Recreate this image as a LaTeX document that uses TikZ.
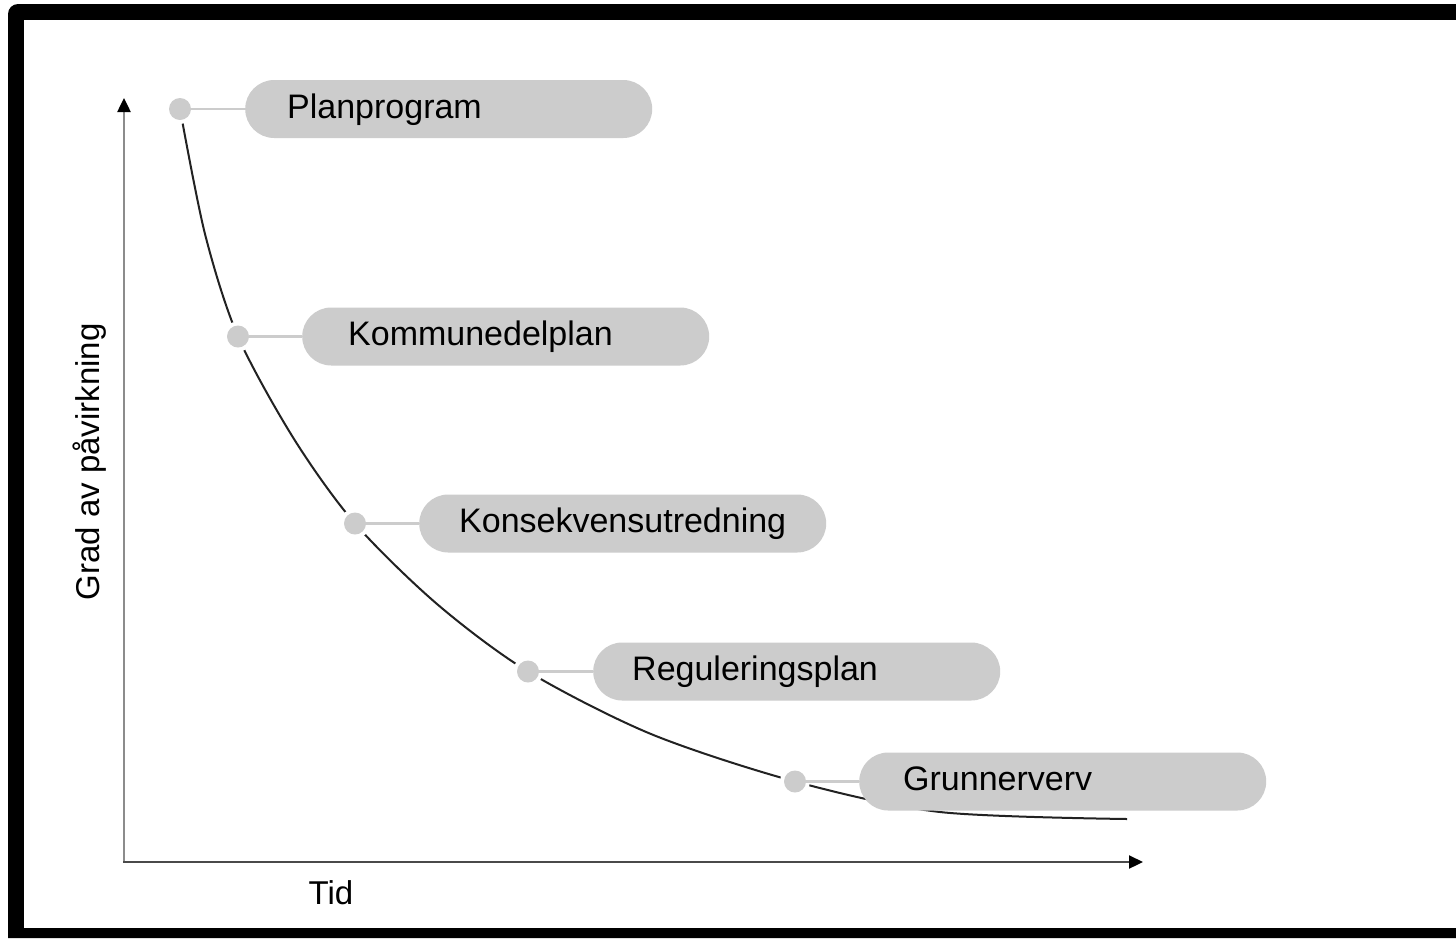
\documentclass[tikz,border=0pt]{standalone}
\usepackage{fontspec}
\setmainfont{Liberation Sans}
\usetikzlibrary{arrows.meta}
\definecolor{boxgray}{HTML}{CCCCCC}
\definecolor{yaxgray}{HTML}{8C8C8C}
\definecolor{xaxgray}{HTML}{4A4A4A}
\definecolor{curvecol}{HTML}{222222}
\tikzset{
  stagebox/.style={fill=boxgray, rounded corners=29pt, minimum width=407pt, minimum height=58pt, inner sep=0pt, anchor=west},
  stagelbl/.style={font=\fontsize{34}{40}\selectfont, inner sep=0pt, anchor=base west, text=black},
  stagedot/.style={circle, fill=boxgray, inner sep=0pt, minimum size=22pt, preaction={draw=white, line width=8pt}},
  conn/.style={draw=boxgray, line width=2.5pt},
  curveline/.style={draw=curvecol, line width=2pt},
  axislbl/.style={font=\fontsize{33}{40}\selectfont, inner sep=0pt},
  axtip/.style={-{Triangle[length=14pt,width=13pt,color=black]}}
}
\begin{document}
\begin{tikzpicture}[x=1pt,y=-1pt]
\useasboundingbox (0,0) rectangle (1456,938);
% frame
\fill[black] (8,938) [rounded corners=10pt] -- (8,4) [sharp corners] -- (1456,4) -- (1456,938) -- cycle;
\fill[white] (24,20) rectangle (1456,928);
% axes
\coordinate (o) at (124,862);
\coordinate (ytip) at (124,98);
\coordinate (xtip) at (1143,862);
\draw[draw=yaxgray, line width=2.5pt, axtip] (o) -- (ytip);
\draw[draw=xaxgray, line width=2.2pt, axtip] ([xshift=-1pt]o) -- (xtip);
\node[axislbl, rotate=90] (ylab) at (90,462) {Grad av påvirkning};
\node[axislbl] (xlab) at (331,893) {Tid};
% curve
\draw[curveline] plot[smooth, tension=0.5] coordinates {(180,109) (205,234) (238,336.5) (294,439) (355,523.5) (437,604) (528,671.5) (651,734) (795,781.5) (940,812) (1127,819)};
% boxes
\node[stagebox] (b1) at (245,109) {};
\node[stagebox] (b2) at (302,336.5) {};
\node[stagebox] (b3) at (419,523.5) {};
\node[stagebox] (b4) at (593,671.5) {};
\node[stagebox] (b5) at (859,781.5) {};
\node[stagelbl] (t1) at ([shift={(42pt,-9pt)}]b1.west) {Planprogram};
\node[stagelbl] (t2) at ([shift={(46pt,-9pt)}]b2.west) {Kommunedelplan};
\node[stagelbl] (t3) at ([shift={(40pt,-9pt)}]b3.west) {Konsekvensutredning};
\node[stagelbl] (t4) at ([shift={(39pt,-9pt)}]b4.west) {Reguleringsplan};
\node[stagelbl] (t5) at ([shift={(44pt,-9pt)}]b5.west) {Grunnerverv};
% dots
\node[stagedot] (d1) at (180,109) {};
\node[stagedot] (d2) at (238,336.5) {};
\node[stagedot] (d3) at (355,523.5) {};
\node[stagedot] (d4) at (528,671.5) {};
\node[stagedot] (d5) at (795,781.5) {};
% connectors
\draw[conn] (d1) -- (b1.west);
\draw[conn] (d2) -- (b2.west);
\draw[conn] (d3) -- (b3.west);
\draw[conn] (d4) -- (b4.west);
\draw[conn] (d5) -- (b5.west);
\end{tikzpicture}
\end{document}
